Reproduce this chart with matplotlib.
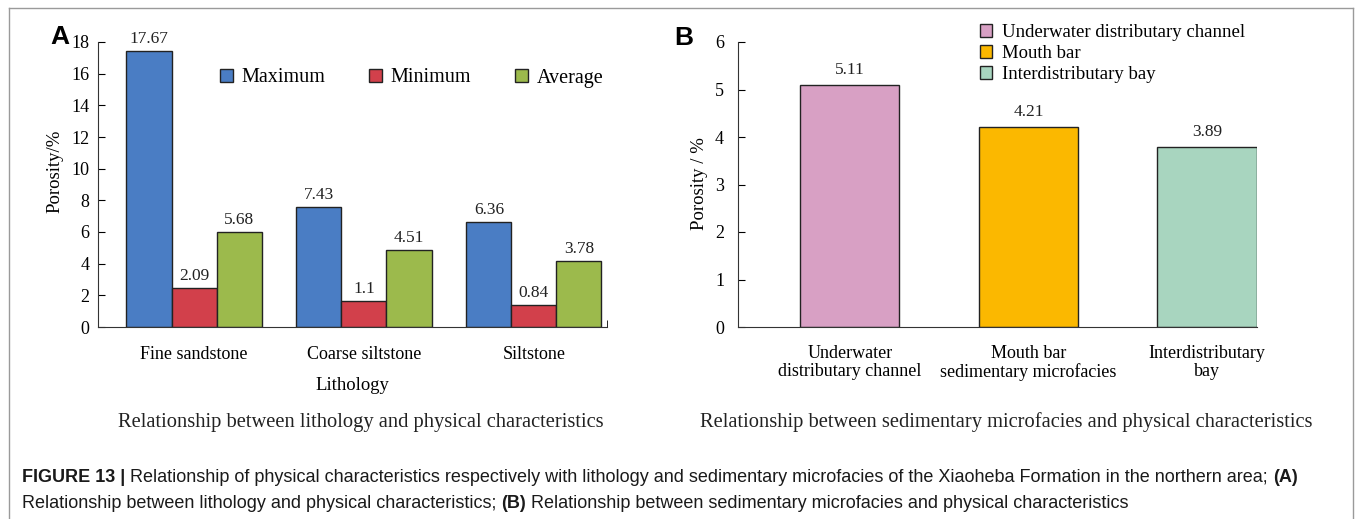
import matplotlib
matplotlib.use("Agg")
import matplotlib.pyplot as plt
from matplotlib.lines import Line2D
import numpy as np

# Panel A data (bar heights as drawn, printed labels as shown)
lithology = ["Fine sandstone", "Coarse siltstone", "Siltstone"]
max_vals = [17.43, 7.58, 6.63]
min_vals = [2.46, 1.64, 1.39]
avg_vals = [6.0, 4.86, 4.17]
max_labels = ["17.67", "7.43", "6.36"]
min_labels = ["2.09", "1.1", "0.84"]
avg_labels = ["5.68", "4.51", "3.78"]
series_names = ["Maximum", "Minimum", "Average"]

# Panel B data
facies = ["Underwater\ndistributary channel", "Mouth bar\nsedimentary microfacies", "Interdistributary\nbay"]
facies_legend = ["Underwater distributary channel", "Mouth bar", "Interdistributary bay"]
facies_vals = [5.1, 4.22, 3.8]
facies_labels = ["5.11", "4.21", "3.89"]

colors_a = ["#4a7dc4", "#d2404b", "#9cba4c"]
colors_b = ["#d8a0c4", "#fbb800", "#a8d5bf"]

serif = "Liberation Serif"
sans = "Liberation Sans"

fig = plt.figure(figsize=(13.55, 5.19), dpi=100)
W, H = 1355, 519

def fx(px):
    return px / W

def fy(py):
    return 1 - py / H

# ---- Panel A ----
axA = fig.add_axes([fx(98), fy(327), fx(607) - fx(98), fy(42) - fy(327)])
x = np.arange(len(lithology))
bw = 0.265
bars = []
for i, (vals, labs) in enumerate([(max_vals, max_labels), (min_vals, min_labels), (avg_vals, avg_labels)]):
    b = axA.bar(x + (i - 1) * bw, vals, bw, color=colors_a[i], edgecolor="#222222",
                linewidth=1, label=series_names[i], zorder=2)
    axA.bar_label(b, labels=labs, padding=3, fontsize=12.5, family=serif, color="#222222")
    bars.append(b)

axA.set_xlim(-0.565, 2.43)
axA.set_ylim(0, 18)
axA.set_yticks(range(0, 19, 2))
axA.set_xticks(x)
axA.set_xticklabels(lithology, family=serif, fontsize=13)
axA.tick_params(axis="x", length=0, pad=14)
axA.tick_params(axis="y", direction="in", length=5, labelsize=13, pad=6)
for t in axA.get_yticklabels():
    t.set_family(serif)
axA.set_xticks([2.43], minor=True)
axA.tick_params(axis="x", which="minor", direction="in", length=5)
axA.set_ylabel("Porosity/%", family=serif, fontsize=13.5)
axA.yaxis.set_label_coords(-0.067, 0.547)
axA.set_xlabel("Lithology", family=serif, fontsize=13.5, labelpad=10)
for s in ["top", "right"]:
    axA.spines[s].set_visible(False)
for s in ["left", "bottom"]:
    axA.spines[s].set_color("#333333")

fig.legend(handles=bars, labels=series_names, loc="center left",
           bbox_to_anchor=(fx(220), fy(78)), ncol=3, frameon=False,
           prop={"family": serif, "size": 14.5}, handlelength=0.65, handleheight=0.65,
           handletextpad=0.4, columnspacing=2.2, borderpad=0, borderaxespad=0)

# ---- Panel B ----
axB = fig.add_axes([fx(738), fy(327), fx(1257) - fx(738), fy(42) - fy(327)])
xb = np.arange(len(facies))
bb = axB.bar(xb, facies_vals, 0.555, color=colors_b, edgecolor="#222222", linewidth=1, zorder=2)
axB.bar_label(bb, labels=facies_labels, padding=5, fontsize=12.5, family=serif, color="#222222")
axB.set_xlim(-0.627, 2.28)
axB.set_ylim(0, 6)
axB.set_yticks(range(0, 7))
axB.set_xticks(xb)
axB.set_xticklabels(facies, family=serif, fontsize=13, linespacing=1.1)
axB.tick_params(axis="x", length=0, pad=13)
axB.tick_params(axis="y", direction="in", length=5, labelsize=13, pad=10)
for t in axB.get_yticklabels():
    t.set_family(serif)
axB.set_ylabel("Porosity / %", family=serif, fontsize=13.5)
axB.yaxis.set_label_coords(-0.058, 0.505)
for s in ["top", "right"]:
    axB.spines[s].set_visible(False)
for s in ["left", "bottom"]:
    axB.spines[s].set_color("#333333")

axB.legend(handles=list(bb), labels=facies_legend, loc="upper left",
           bbox_to_anchor=(fx(980), fy(24)), bbox_transform=fig.transFigure,
           frameon=False, prop={"family": serif, "size": 13.5},
           handlelength=0.65, handleheight=0.65, handletextpad=0.55,
           labelspacing=0.22, borderpad=0, borderaxespad=0)

# panel letters and subtitles
fig.text(fx(50), fy(37), "A", family=sans, weight="bold", fontsize=19, va="center")
fig.text(fx(674), fy(38), "B", family=sans, weight="bold", fontsize=19, va="center")
fig.text(fx(361), fy(422), "Relationship between lithology and physical characteristics",
         family=serif, fontsize=14.8, ha="center", va="center", color="#222222")
fig.text(fx(1006), fy(422), "Relationship between sedimentary microfacies and physical characteristics",
         family=serif, fontsize=14.8, ha="center", va="center", color="#222222")

# frame
frame_kw = dict(color="#9a9a9a", lw=1, transform=fig.transFigure)
fig.add_artist(Line2D([fx(9), fx(1353)], [fy(8), fy(8)], **frame_kw))
fig.add_artist(Line2D([fx(9), fx(9)], [fy(8), 0], **frame_kw))
fig.add_artist(Line2D([fx(1353), fx(1353)], [fy(8), 0], **frame_kw))

# caption with mixed weights
cap1 = [("FIGURE 13 |", "bold"),
        (" Relationship of physical characteristics respectively with lithology and sedimentary "
         "microfacies of the Xiaoheba Formation in the northern area; ", "normal"),
        ("(A)", "bold")]
cap2 = [("Relationship between lithology and physical characteristics; ", "normal"),
        ("(B)", "bold"),
        (" Relationship between sedimentary microfacies and physical characteristics", "normal")]

renderer = fig.canvas.get_renderer()

def put_line(pieces, x0, ypx, size):
    xpos = x0
    for txt, wt in pieces:
        t = fig.text(fx(xpos), fy(ypx), txt, family=sans, weight=wt, fontsize=size,
                     va="center", ha="left", color="#1a1a1a")
        bb_ = t.get_window_extent(renderer)
        xpos += bb_.width

put_line(cap1, 22, 478, 13.0)
put_line(cap2, 22, 503, 13.0)

fig.savefig("out.png", dpi=100)
